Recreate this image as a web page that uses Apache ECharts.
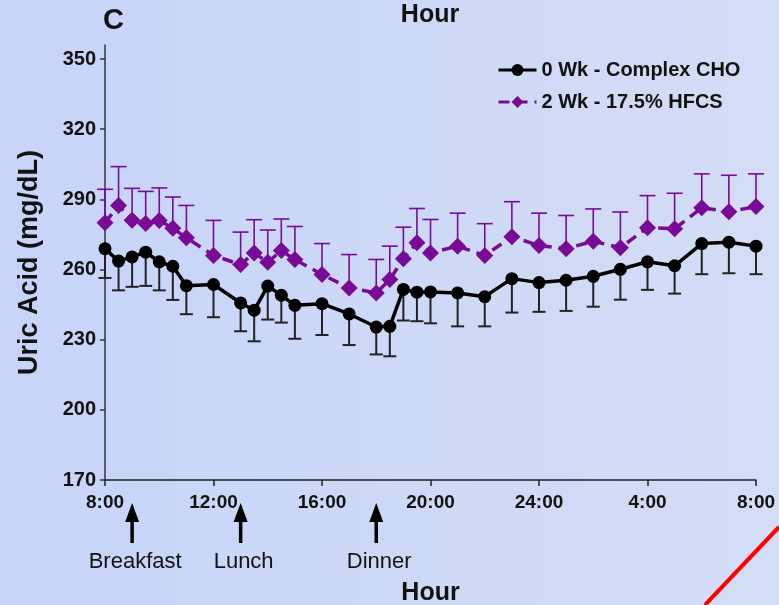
<!DOCTYPE html>
<html>
<head>
<meta charset="utf-8">
<script src="https://cdn.jsdelivr.net/npm/echarts@6/dist/echarts.min.js"></script>
<style>
  html, body { margin: 0; padding: 0; }
  #chart {
    width: 779px;
    height: 605px;
    background: linear-gradient(to right, #c7d4f9, #d4ddf5);
  }
</style>
</head>
<body>
<div id="chart"></div>
<script>
  // hours after 8:00
  var hours = [0, 0.5, 1, 1.5, 2, 2.5, 3, 4, 5, 5.5, 6, 6.5, 7, 8, 9, 10, 10.5, 11, 11.5, 12, 13, 14, 15, 16, 17, 18, 19, 20, 21, 22, 23, 24];
  var complexCho = [268.9, 263.6, 265.4, 267.4, 263.3, 261.4, 253.1, 253.6, 245.7, 242.6, 252.9, 249, 244.7, 245.4, 241, 235.4, 235.7, 251.5, 250.3, 250.4, 250, 248.4, 256.1, 254.4, 255.4, 257.1, 260.1, 263.3, 261.6, 271.1, 271.7, 270];
  var complexChoSem = [12.5, 12.5, 12.8, 14.4, 12.2, 14.4, 12.2, 14, 12.1, 13.3, 14.3, 11.7, 14.3, 13.4, 13.3, 11.7, 12.8, 13.3, 12.4, 13.4, 14.3, 12.7, 14.5, 12.5, 13.1, 13, 13, 12, 11.9, 13.1, 13.3, 12];
  var hfcs = [280, 287.4, 281.1, 279.7, 281, 277.6, 273.6, 266, 262.1, 267.1, 263.1, 268.1, 264.3, 257.9, 252.1, 250, 255.7, 264.6, 271.4, 267.1, 270, 266, 274, 270.3, 268.9, 272.1, 269.3, 277.9, 277.4, 286.4, 284.7, 286.9];
  var hfcsSem = [14.3, 16.6, 13.6, 13.7, 13.9, 13.4, 13.8, 15, 13.9, 14.2, 13.8, 13.5, 14.1, 13.2, 14.3, 14.3, 14.3, 13.5, 14.7, 14.3, 14.1, 13.6, 15, 13.8, 14.2, 13.8, 15.3, 13.7, 15.2, 14.5, 15.6, 14];
  var xTickLabels = ['8:00', '12:00', '16:00', '20:00', '24:00', '4:00', '8:00'];
  var yTicks = [170, 200, 230, 260, 290, 320, 350];
  var meals = ['Breakfast', 'Lunch', 'Dinner'];
  var mealHours = [1, 5, 10];

  var purple = '#780a96';
  var font = 'Liberation Sans, Arial, sans-serif';

  function pairs(vals, sem) {
    return hours.map(function (h, i) {
      return sem ? [h, vals[i], sem[i]] : [h, vals[i]];
    });
  }

  // error bar: dir 1 = up, -1 = down
  function errorBars(dir, color, width, capW) {
    return function (params, api) {
      var x = api.value(0), y = api.value(1), e = api.value(2);
      var p0 = api.coord([x, y]);
      var p1 = api.coord([x, y + dir * e]);
      return {
        type: 'group',
        children: [
          { type: 'line', shape: { x1: p0[0], y1: p0[1], x2: p1[0], y2: p1[1] }, style: { stroke: color, lineWidth: width } },
          { type: 'line', shape: { x1: p1[0] - capW / 2, y1: p1[1], x2: p1[0] + capW / 2, y2: p1[1] }, style: { stroke: color, lineWidth: width } }
        ]
      };
    };
  }

  var myChart = echarts.init(document.getElementById('chart'));
  myChart.setOption({
    animation: false,
    textStyle: { fontFamily: font },
    grid: { left: 105, right: 23, top: 45, bottom: 125, outerBoundsMode: 'none', containLabel: false },
    legend: {
      left: 497,
      top: 60,
      padding: 0,
      orient: 'vertical',
      itemWidth: 38,
      itemHeight: 15,
      itemGap: 12,
      lineStyle: { width: 3 },
      textStyle: { fontSize: 20, fontWeight: 'bold', color: '#111', fontFamily: font },
      data: ['0 Wk - Complex CHO', '2 Wk - 17.5% HFCS']
    },
    xAxis: {
      type: 'value',
      min: 0,
      max: 24,
      interval: 4,
      name: 'Hour',
      nameLocation: 'middle',
      nameGap: 101,
      nameTextStyle: { fontSize: 25, fontWeight: 'bold', color: '#111', fontFamily: font },
      splitLine: { show: false },
      axisLine: { lineStyle: { color: '#222', width: 1.5 } },
      axisTick: { length: 6, lineStyle: { color: '#222', width: 1.5 } },
      axisLabel: {
        margin: 13,
        fontSize: 19,
        fontWeight: 'bold',
        color: '#111',
        formatter: function (v) { return xTickLabels[v / 4]; }
      }
    },
    yAxis: {
      type: 'value',
      min: 170,
      max: 356,
      name: 'Uric Acid (mg/dL)',
      nameLocation: 'middle',
      nameGap: 62,
      nameTextStyle: { fontSize: 27, fontWeight: 'bold', color: '#111', fontFamily: font },
      splitLine: { show: false },
      axisLine: { show: true, lineStyle: { color: '#333', width: 1.5 } },
      axisTick: { show: true, length: 5, customValues: yTicks, lineStyle: { color: '#333', width: 1.5 } },
      axisLabel: { customValues: yTicks, margin: 9, fontSize: 20, fontWeight: 'bold', color: '#111' }
    },
    series: [
      {
        type: 'custom',
        clip: false,
        renderItem: errorBars(-1, '#222', 2, 13),
        data: pairs(complexCho, complexChoSem),
        z: 1
      },
      {
        type: 'custom',
        clip: false,
        renderItem: errorBars(1, purple, 1.6, 16),
        data: pairs(hfcs, hfcsSem),
        z: 1
      },
      {
        name: '2 Wk - 17.5% HFCS',
        type: 'line',
        data: pairs(hfcs),
        symbol: 'diamond',
        symbolSize: 17,
        itemStyle: { color: purple },
        lineStyle: { color: purple, width: 3.5, type: [11, 7] },
        z: 2
      },
      {
        name: '0 Wk - Complex CHO',
        type: 'line',
        data: pairs(complexCho),
        symbol: 'circle',
        symbolSize: 13,
        itemStyle: { color: '#000' },
        lineStyle: { color: '#000', width: 3.5 },
        z: 3
      }
    ]
  });

  // labels, meal arrows and the red stroke
  var extras = [
    { type: 'text', left: 103, top: 6, style: { text: 'C', font: 'bold 29px ' + font, fill: '#111' } },
    { type: 'text', x: 430, y: 15, style: { text: 'Hour', font: 'bold 25px ' + font, fill: '#111', align: 'center', verticalAlign: 'middle' } },
    { type: 'line', shape: { x1: 705, y1: 605, x2: 779, y2: 527 }, style: { stroke: '#ff0000', lineWidth: 4 } }
  ];
  meals.forEach(function (m, i) {
    var x = myChart.convertToPixel({ xAxisIndex: 0 }, mealHours[i]);
    extras.push({ type: 'line', shape: { x1: x, y1: 543, x2: x, y2: 518 }, style: { stroke: '#000', lineWidth: 3.5 } });
    extras.push({ type: 'polygon', shape: { points: [[x - 7, 522], [x + 7, 522], [x, 503]] }, style: { fill: '#000' } });
    extras.push({ type: 'text', x: x + 3, y: 562, style: { text: m, font: '22px ' + font, fill: '#111', align: 'center', verticalAlign: 'middle' } });
  });
  myChart.setOption({ graphic: extras });
</script>
</body>
</html>
